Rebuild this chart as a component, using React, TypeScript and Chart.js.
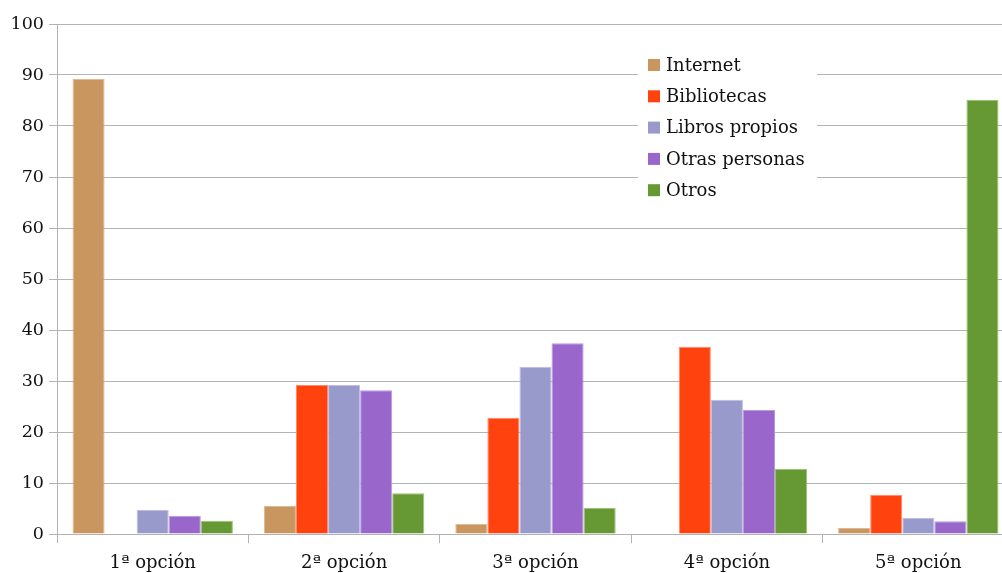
import React, { useEffect, useRef } from "react";
import { Chart, registerables } from "chart.js";

Chart.register(...registerables);

const categories = ["1ª opción", "2ª opción", "3ª opción", "4ª opción", "5ª opción"];
const seriesNames = ["Internet", "Bibliotecas", "Libros propios", "Otras personas", "Otros"];
const internet = [89.2, 5.5, 2.0, 0, 1.2];
const bibliotecas = [0, 29.2, 22.8, 36.7, 7.7];
const librosPropios = [4.7, 29.2, 32.8, 26.3, 3.2];
const otrasPersonas = [3.6, 28.2, 37.4, 24.3, 2.5];
const otros = [2.6, 8.0, 5.1, 12.8, 85.1];
const yTicks = [0, 10, 20, 30, 40, 50, 60, 70, 80, 90, 100];

const colors = ["#C9965F", "#FF420E", "#999ACC", "#9966CC", "#669933"];
const borders = ["#DDB995", "#FF8A6A", "#BDBEE0", "#BB99DD", "#99C275"];

const FONT = "'DejaVu Serif', serif";
const TEXT = "#111111";

const legendPlugin = {
  id: "insideLegend",
  afterDraw(chart: any) {
    const ctx = chart.ctx;
    ctx.save();
    ctx.fillStyle = "#ffffff";
    ctx.fillRect(638, 45, 179, 160);
    const startY = 65;
    const step = 31.3;
    ctx.font = "18px " + FONT;
    ctx.textBaseline = "middle";
    ctx.textAlign = "left";
    chart.data.datasets.forEach((ds: any, i: number) => {
      const y = startY + i * step;
      ctx.fillStyle = ds.backgroundColor;
      ctx.fillRect(648, y - 6, 12, 12);
      ctx.fillStyle = TEXT;
      ctx.fillText(ds.label, 666, y + 1);
    });
    ctx.restore();
  },
};

export default function App() {
  const ref = useRef<HTMLCanvasElement | null>(null);
  useEffect(() => {
    document.body.style.margin = "0";
    const seriesData = [internet, bibliotecas, librosPropios, otrasPersonas, otros];
    const chart = new Chart(ref.current as HTMLCanvasElement, {
      type: "bar",
      data: {
        labels: categories,
        datasets: seriesNames.map((name, i) => ({
          label: name,
          data: seriesData[i],
          backgroundColor: colors[i],
          borderColor: borders[i],
          borderWidth: 1,
          categoryPercentage: 0.838,
          barPercentage: 1,
        })),
      },
      options: {
        animation: false,
        responsive: false,
        maintainAspectRatio: false,
        layout: { padding: { top: 24, right: 0, left: 0, bottom: 0 } },
        plugins: {
          legend: { display: false },
          tooltip: { enabled: false },
        },
        scales: {
          x: {
            grid: {
              drawOnChartArea: false,
              drawTicks: true,
              tickLength: 9,
              color: "#b3b3b3",
              offset: true,
            },
            border: { color: "#b3b3b3" },
            ticks: {
              color: TEXT,
              font: { family: FONT, size: 18 },
              padding: 10,
            },
            afterFit: (s: any) => {
              s.height = 39;
            },
          },
          y: {
            min: 0,
            max: 100,
            afterBuildTicks: (s: any) => {
              s.ticks = yTicks.map((v) => ({ value: v }));
            },
            grid: { color: "#b3b3b3", tickLength: 8 },
            border: { color: "#b3b3b3" },
            ticks: {
              color: TEXT,
              font: { family: FONT, size: 17.5 },
              padding: 5,
            },
            afterFit: (s: any) => {
              s.width = 57;
            },
          },
        },
      },
      plugins: [legendPlugin],
    });
    return () => chart.destroy();
  }, []);
  return (
    <div style={{ position: "fixed", left: 0, top: 0, width: 1002, height: 573, overflow: "hidden", background: "#fff" }}>
      <canvas ref={ref} width={1014} height={573} style={{ width: 1014, height: 573, display: "block" }} />
    </div>
  );
}
